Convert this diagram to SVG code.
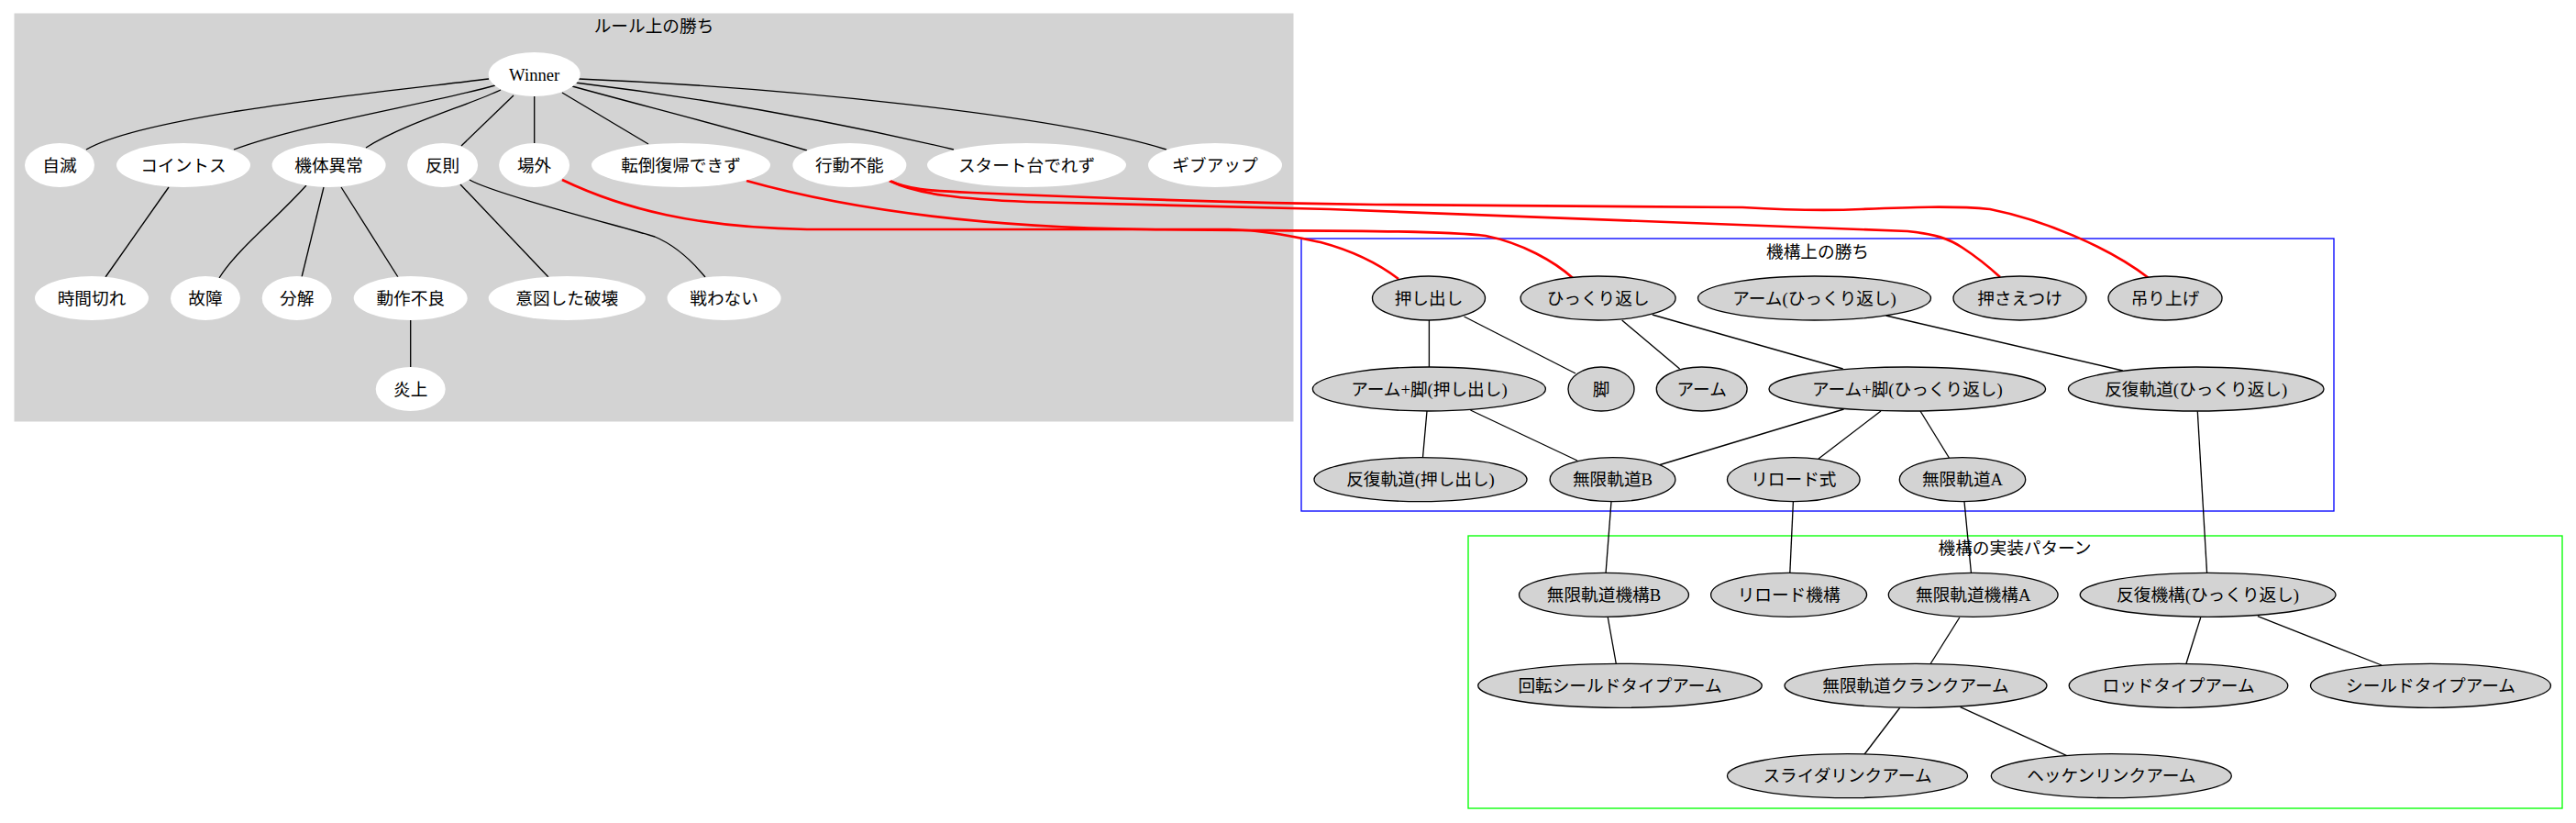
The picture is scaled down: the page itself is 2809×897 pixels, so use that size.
<svg xmlns="http://www.w3.org/2000/svg" width="2809" height="897" viewBox="0 0 2809 897">
<style>
text{font-family:"Liberation Serif","Noto Sans CJK JP",serif;font-size:18.67px;fill:#000;text-anchor:middle}
.wn ellipse{fill:#fff;stroke:none}
.gn ellipse{fill:#d3d3d3;stroke:#000;stroke-width:1.33}
.e{fill:none;stroke:#000;stroke-width:1.33}
.r{fill:none;stroke:#ff0000;stroke-width:2.67}
</style>
<rect width="2809" height="897" fill="#fff"/>
<g id="cluster_rule">
<rect x="16" y="15" width="1394" height="444" fill="#d3d3d3" stroke="#d3d3d3"/>
<text x="713" y="35">ルール上の勝ち</text>
</g>
<g id="cluster_mech">
<rect x="1419" y="260" width="1126" height="297" fill="none" stroke="#0000ff" stroke-width="1.33"/>
<text x="1982" y="281">機構上の勝ち</text>
</g>
<g id="cluster_impl">
<rect x="1601" y="584" width="1193" height="297" fill="none" stroke="#00ff00" stroke-width="1.33"/>
<text x="2197" y="604">機構の実装パターン</text>
</g>
<g id="connectors">
<path class="e" d="M533,86 C420,100 160,125 94,163"/>
<path class="e" d="M540,93 C470,113 330,135 255,163"/>
<path class="e" d="M546,98 C510,115 440,135 399,161"/>
<path class="e" d="M560,104 L503,159"/>
<path class="e" d="M582.7,105 L582.7,156"/>
<path class="e" d="M613,101 L707,157"/>
<path class="e" d="M624,94 C700,115 800,140 880,164"/>
<path class="e" d="M627,90 C750,105 900,130 1040,163"/>
<path class="e" d="M631,86 C850,95 1150,125 1272,163"/>
<path class="e" d="M184,204 L115,302"/>
<path class="e" d="M334,202 C300,240 260,270 239,303"/>
<path class="e" d="M353,204 L329,302"/>
<path class="e" d="M372,204 L434,302"/>
<path class="e" d="M447.7,349 L447.7,400"/>
<path class="e" d="M502,201 L598,302"/>
<path class="e" d="M512,196 C540,212 690,250 714,258 C738,268 755,285 769,302"/>
<path class="r" d="M613,196 C680,228 760,248 880,250 L1340,250 C1380,251 1410,258 1440,264 C1470,272 1500,285 1525,304"/>
<path class="r" d="M814,197 C950,235 1100,248 1250,250 C1400,252 1560,250 1620,257 C1660,265 1695,285 1715,303"/>
<path class="r" d="M970,197 C990,206 1010,208 1060,210 C1200,216 1350,221 1500,223 L1900,226 C1950,229 1990,230 2030,228 C2080,226 2130,224 2170,228 C2230,240 2300,270 2343,303"/>
<path class="r" d="M970,197 C1000,212 1050,217 1120,220 C1300,224 1400,226 1450,228 L2080,252 C2110,255 2125,260 2140,270 C2160,283 2170,292 2181,302"/>
<path class="e" d="M1558.4,349 L1558.4,400"/>
<path class="e" d="M1596.5,345 L1718,407"/>
<path class="e" d="M1768.7,349 L1831.6,402"/>
<path class="e" d="M1801.8,343 L2009.7,402"/>
<path class="e" d="M2056.6,344 L2314.8,404"/>
<path class="e" d="M1556,448 L1551.5,498.5"/>
<path class="e" d="M1603.4,447 L1720,502"/>
<path class="e" d="M2010.6,446 L1808.7,507"/>
<path class="e" d="M2051,448 L1983,500"/>
<path class="e" d="M2094,448 L2125.4,499"/>
<path class="e" d="M1757,546.7 L1751,625"/>
<path class="e" d="M1955.4,546.7 L1951.8,625"/>
<path class="e" d="M2142,546.7 L2149.5,625"/>
<path class="e" d="M2396.3,448.3 L2406.6,625"/>
<path class="e" d="M1753.3,673 L1762.4,724"/>
<path class="e" d="M2136.8,673 L2104.8,724"/>
<path class="e" d="M2071.6,771.5 L2032.8,822.5"/>
<path class="e" d="M2137.6,770.7 L2255.4,824.3"/>
<path class="e" d="M2399.7,673 L2383.7,724"/>
<path class="e" d="M2461.9,671.7 L2597,725"/>
</g>
<g id="n_winner" class="wn"><ellipse cx="582.7" cy="81" rx="50" ry="24"/><text x="582.7" y="87.5">Winner</text></g>
<g id="n_jimetsu" class="wn"><ellipse cx="65" cy="180" rx="38" ry="24"/><text x="65" y="186.5">自滅</text></g>
<g id="n_cointoss" class="wn"><ellipse cx="200" cy="180" rx="73" ry="24"/><text x="200" y="186.5">コイントス</text></g>
<g id="n_kitai" class="wn"><ellipse cx="358.6" cy="180" rx="62" ry="24"/><text x="358.6" y="186.5">機体異常</text></g>
<g id="n_hansoku" class="wn"><ellipse cx="482.6" cy="180" rx="38.5" ry="24"/><text x="482.6" y="186.5">反則</text></g>
<g id="n_jougai" class="wn"><ellipse cx="582.6" cy="180" rx="38.5" ry="24"/><text x="582.6" y="186.5">場外</text></g>
<g id="n_tentou" class="wn"><ellipse cx="742.5" cy="180" rx="97.5" ry="24"/><text x="742.5" y="186.5">転倒復帰できず</text></g>
<g id="n_koudou" class="wn"><ellipse cx="926.4" cy="180" rx="62" ry="24"/><text x="926.4" y="186.5">行動不能</text></g>
<g id="n_start" class="wn"><ellipse cx="1119.5" cy="180" rx="108.5" ry="24"/><text x="1119.5" y="186.5">スタート台でれず</text></g>
<g id="n_giveup" class="wn"><ellipse cx="1325" cy="180" rx="73" ry="24"/><text x="1325" y="186.5">ギブアップ</text></g>
<g id="n_timeout" class="wn"><ellipse cx="100" cy="325" rx="62" ry="24"/><text x="100" y="331.5">時間切れ</text></g>
<g id="n_koshou" class="wn"><ellipse cx="224" cy="325" rx="38" ry="24"/><text x="224" y="331.5">故障</text></g>
<g id="n_bunkai" class="wn"><ellipse cx="323.7" cy="325" rx="38" ry="24"/><text x="323.7" y="331.5">分解</text></g>
<g id="n_dousa" class="wn"><ellipse cx="447.7" cy="325" rx="62" ry="24"/><text x="447.7" y="331.5">動作不良</text></g>
<g id="n_ito" class="wn"><ellipse cx="618.3" cy="325" rx="85.6" ry="24"/><text x="618.3" y="331.5">意図した破壊</text></g>
<g id="n_tatakawanai" class="wn"><ellipse cx="789.6" cy="325" rx="62" ry="24"/><text x="789.6" y="331.5">戦わない</text></g>
<g id="n_enjou" class="wn"><ellipse cx="447.7" cy="424" rx="38" ry="24"/><text x="447.7" y="430.5">炎上</text></g>
<g id="n_oshidashi" class="gn"><ellipse cx="1558" cy="325" rx="61.5" ry="24"/><text x="1558" y="331.5">押し出し</text></g>
<g id="n_hikkuri" class="gn"><ellipse cx="1742.6" cy="325" rx="84.5" ry="24"/><text x="1742.6" y="331.5">ひっくり返し</text></g>
<g id="n_arm_hik" class="gn"><ellipse cx="1978.5" cy="325" rx="127" ry="24"/><text x="1978.5" y="331.5">アーム(ひっくり返し)</text></g>
<g id="n_osaetsuke" class="gn"><ellipse cx="2202.5" cy="325" rx="72.5" ry="24"/><text x="2202.5" y="331.5">押さえつけ</text></g>
<g id="n_tsuriage" class="gn"><ellipse cx="2361" cy="325" rx="62" ry="24"/><text x="2361" y="331.5">吊り上げ</text></g>
<g id="n_armleg_osh" class="gn"><ellipse cx="1558.4" cy="424" rx="127" ry="24"/><text x="1558.4" y="430.5">アーム+脚(押し出し)</text></g>
<g id="n_ashi" class="gn"><ellipse cx="1746" cy="424" rx="36" ry="24"/><text x="1746" y="430.5">脚</text></g>
<g id="n_arm" class="gn"><ellipse cx="1855.7" cy="424" rx="49.4" ry="24"/><text x="1855.7" y="430.5">アーム</text></g>
<g id="n_armleg_hik" class="gn"><ellipse cx="2079.8" cy="424" rx="150.8" ry="24"/><text x="2079.8" y="430.5">アーム+脚(ひっくり返し)</text></g>
<g id="n_hanpuku_hik" class="gn"><ellipse cx="2394.7" cy="424" rx="139.3" ry="24"/><text x="2394.7" y="430.5">反復軌道(ひっくり返し)</text></g>
<g id="n_hanpuku_osh" class="gn"><ellipse cx="1549" cy="522.7" rx="116" ry="24"/><text x="1549" y="529.2">反復軌道(押し出し)</text></g>
<g id="n_mugenB" class="gn"><ellipse cx="1758.5" cy="522.7" rx="68.4" ry="24"/><text x="1758.5" y="529.2">無限軌道B</text></g>
<g id="n_reload" class="gn"><ellipse cx="1955.8" cy="522.7" rx="72.3" ry="24"/><text x="1955.8" y="529.2">リロード式</text></g>
<g id="n_mugenA" class="gn"><ellipse cx="2140" cy="522.7" rx="68.7" ry="24"/><text x="2140" y="529.2">無限軌道A</text></g>
<g id="n_mugenkikouB" class="gn"><ellipse cx="1749" cy="648.3" rx="92.5" ry="24"/><text x="1749" y="654.8">無限軌道機構B</text></g>
<g id="n_reloadkikou" class="gn"><ellipse cx="1950.6" cy="648.3" rx="85" ry="24"/><text x="1950.6" y="654.8">リロード機構</text></g>
<g id="n_mugenkikouA" class="gn"><ellipse cx="2151.7" cy="648.3" rx="92.4" ry="24"/><text x="2151.7" y="654.8">無限軌道機構A</text></g>
<g id="n_hanpukukikou" class="gn"><ellipse cx="2407.6" cy="648.3" rx="139.4" ry="24"/><text x="2407.6" y="654.8">反復機構(ひっくり返し)</text></g>
<g id="n_kaiten" class="gn"><ellipse cx="1766.5" cy="747.3" rx="154.8" ry="24"/><text x="1766.5" y="753.8">回転シールドタイプアーム</text></g>
<g id="n_crank" class="gn"><ellipse cx="2089" cy="747.3" rx="143" ry="24"/><text x="2089" y="753.8">無限軌道クランクアーム</text></g>
<g id="n_rod" class="gn"><ellipse cx="2375.5" cy="747.3" rx="119.3" ry="24"/><text x="2375.5" y="753.8">ロッドタイプアーム</text></g>
<g id="n_shield" class="gn"><ellipse cx="2650.5" cy="747.3" rx="131" ry="24"/><text x="2650.5" y="753.8">シールドタイプアーム</text></g>
<g id="n_slider" class="gn"><ellipse cx="2014.5" cy="845.7" rx="131" ry="24"/><text x="2014.5" y="852.2">スライダリンクアーム</text></g>
<g id="n_hecken" class="gn"><ellipse cx="2302.3" cy="845.7" rx="131" ry="24"/><text x="2302.3" y="852.2">ヘッケンリンクアーム</text></g>
</svg>
